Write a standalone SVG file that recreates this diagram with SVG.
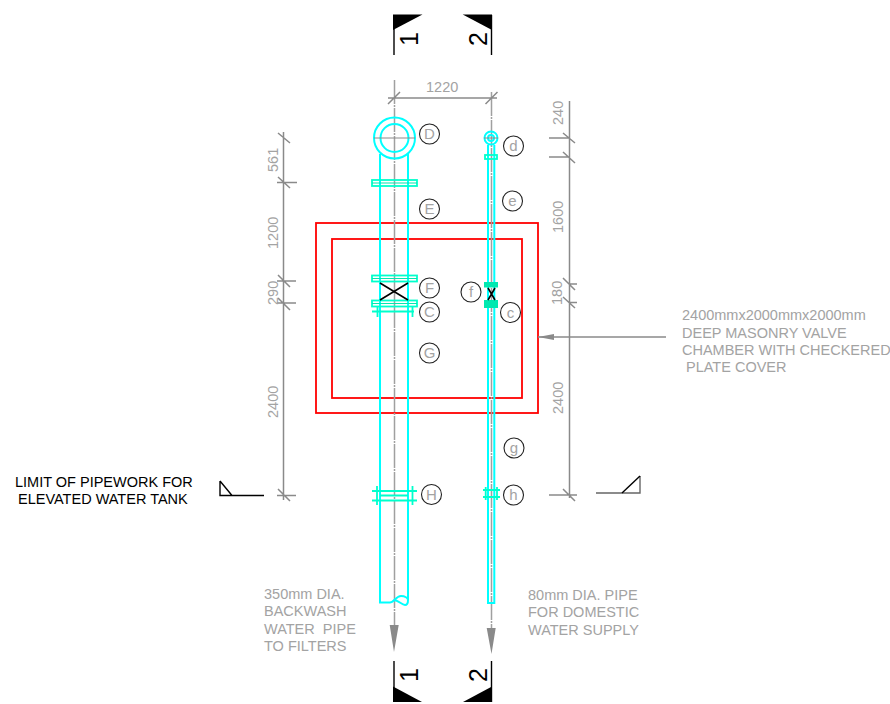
<svg xmlns="http://www.w3.org/2000/svg" width="890" height="704" viewBox="0 0 890 704">
<style>
text{font-family:"Liberation Sans",Arial,sans-serif;font-size:14.500px;fill:#a3a3a3}
.k{fill:#000}
.dg{fill:#000;font-size:25px;text-anchor:middle}
.c{fill:none;stroke:#00ffff;stroke-width:2}
.t{fill:none;stroke:#00e8b0;stroke-width:1.2}
.tc{fill:none;stroke:#00ffcc;stroke-width:1.800}
.d{fill:none;stroke:#8a8a8a;stroke-width:1.500}
.cl{fill:none;stroke:#a0a0a0;stroke-width:1.500;stroke-dasharray:24 1 2 1}
.x{fill:none;stroke:#000;stroke-width:1.600}
.r{fill:none;stroke:#ff0000;stroke-width:1.800}
.b{fill:none;stroke:#000;stroke-width:1.400}
.g{fill:none;stroke:#666;stroke-width:1.400}
.n{fill:#fff;stroke:#222;stroke-width:1.100}
.l{text-anchor:middle;font-size:15px}
</style>
<g id="chamber"><rect class="r" x="316" y="223" width="222" height="190"/><rect class="r" x="332" y="239" width="190" height="159"/></g>
<g id="connectors">
<path class="cl" d="M394.500 80V625M491.500 92V628"/>
<path class="d" d="M388 98H497M388 104L400 92M485.500 104L497.500 92"/>
<path class="d" d="M283.500 132V500M278 133L290 143M278 177L290 188M277 182.500H297M278 275L290 287M277 281H296M278 298L290 310M277 303H296M278 489L290 501M277 495.500H296"/>
<path class="d" d="M569.500 101V498M563 133L575 143M563 152L575 163M549 138H569M549 157H569M563 278L575 290M563 297L575 308M569 284H577M569 302.500H577M563 489L575 501M549 495H577"/>
<path class="d" d="M538 337H666"/><path d="M538 337L554 334V340Z" fill="#8a8a8a"/>
<path d="M389.700 625H398.700L394 652ZM486.700 628H495.700L491.500 654Z" fill="#8a8a8a"/>
</g>
<g id="pipe-large">
<circle class="c" cx="394.500" cy="138" r="20.500"/><circle class="c" cx="394.500" cy="138" r="14"/>
<path class="d" style="stroke-width:1" d="M374 138H415"/>
<path class="c" d="M380 154V602.500H390C394 602.500 396 596 401 596C405 596 408 598 408 600V154"/>
<path class="c" d="M394 600C398 600 402 605 405 605C407 605 408 603 408 600"/>
<rect class="tc" x="372" y="180" width="45" height="6"/><path class="t" d="M372 183H417"/>
<rect class="tc" x="372" y="275.500" width="45" height="6"/><path class="t" d="M372 278.500H417"/>
<rect class="tc" x="372" y="300.500" width="45" height="6"/><path class="t" d="M372 303.500H417"/>
<path class="x" d="M380 283L408 300M408 283L380 300"/>
<path class="tc" d="M372 311.500H414M377.500 307V317M412.500 307V317"/>
<path class="tc" d="M372 491H417M372 500.500H417M377 486V505M412.500 486V505M380 495.500H408"/>
</g>
<g id="pipe-small">
<circle class="c" cx="491" cy="138" r="6.500"/><circle class="c" cx="491" cy="138" r="3"/>
<path class="d" style="stroke-width:1" d="M484 138H498"/>
<path class="c" d="M488 145V603H494.300V145"/>
<rect class="tc" x="485" y="155" width="12" height="4"/>
<rect x="484" y="282" width="14" height="5.500" fill="#00e8b0"/>
<rect x="484" y="300" width="14" height="8" fill="#00e8b0"/>
<path class="x" d="M488 288L495 300M495 288L488 300"/>
<path class="tc" d="M483 490H500M483 497H500M485.700 487V500M497 487V500"/>
</g>
<g id="section-1-top"><path class="k" d="M393 14.500H422.500L393 30Z"/><path class="b" d="M394 15V55"/><text class="dg" transform="translate(418,39) rotate(-90)">1</text></g>
<g id="section-2-top"><path class="k" d="M462.700 14.500H492V30Z"/><path class="b" d="M491.500 15V55"/><text class="dg" transform="translate(487,39) rotate(-90)">2</text></g>
<g id="section-1-bottom"><path class="k" d="M393 702H422L393 686.500Z"/><path class="b" d="M394 661V702"/><text class="dg" transform="translate(418,675) rotate(-90)">1</text></g>
<g id="section-2-bottom"><path class="k" d="M463 702H492V686.500Z"/><path class="b" d="M491.500 661V702"/><text class="dg" transform="translate(487,675) rotate(-90)">2</text></g>
<g id="limit-left"><path class="b" d="M220 481L232 495.500H264M220 481V495.500H232"/></g>
<g id="limit-right"><path class="g" d="M596 493H640V476"/><path class="b" d="M640 476L622 493"/></g>
<g id="bubble-D"><circle class="n" cx="429.500" cy="134" r="10"/><text class="l" x="429.500" y="139">D</text></g>
<g id="bubble-d"><circle class="n" cx="513.500" cy="146" r="10"/><text class="l" x="513.500" y="151">d</text></g>
<g id="bubble-E"><circle class="n" cx="429.500" cy="209" r="10"/><text class="l" x="429.500" y="214">E</text></g>
<g id="bubble-e"><circle class="n" cx="512.500" cy="201" r="10"/><text class="l" x="512.500" y="206">e</text></g>
<g id="bubble-F"><circle class="n" cx="429.500" cy="288" r="10"/><text class="l" x="429.500" y="293">F</text></g>
<g id="bubble-f"><circle class="n" cx="471" cy="292" r="10"/><text class="l" x="471" y="297">f</text></g>
<g id="bubble-C"><circle class="n" cx="429.500" cy="312" r="10"/><text class="l" x="429.500" y="317">C</text></g>
<g id="bubble-c"><circle class="n" cx="510.500" cy="312.500" r="10"/><text class="l" x="510.500" y="317.500">c</text></g>
<g id="bubble-G"><circle class="n" cx="429.500" cy="353" r="10"/><text class="l" x="429.500" y="358">G</text></g>
<g id="bubble-g"><circle class="n" cx="514" cy="448" r="10"/><text class="l" x="514" y="453">g</text></g>
<g id="bubble-H"><circle class="n" cx="431.500" cy="494.500" r="10"/><text class="l" x="431.500" y="499.500">H</text></g>
<g id="bubble-h"><circle class="n" cx="513.500" cy="495" r="10"/><text class="l" x="513.500" y="500">h</text></g>
<g id="labels">
<text x="426" y="92">1220</text>
<text transform="translate(278,172) rotate(-90)">561</text>
<text transform="translate(278,249) rotate(-90)">1200</text>
<text transform="translate(278,305) rotate(-90)">290</text>
<text transform="translate(278,418) rotate(-90)">2400</text>
<text transform="translate(563,125) rotate(-90)">240</text>
<text transform="translate(563,233) rotate(-90)">1600</text>
<text transform="translate(562,305) rotate(-90)">180</text>
<text transform="translate(563,414) rotate(-90)">2400</text>
<text x="682" y="320">2400mmx2000mmx2000mm</text>
<text x="682" y="338">DEEP MASONRY VALVE</text>
<text x="682" y="355">CHAMBER WITH CHECKERED</text>
<text x="682" y="372" xml:space="preserve"> PLATE COVER</text>
<text class="k" x="15" y="487">LIMIT OF PIPEWORK FOR</text>
<text class="k" x="18" y="504">ELEVATED WATER TANK</text>
<text x="264" y="599">350mm DIA.</text>
<text x="264" y="616">BACKWASH</text>
<text x="264" y="634" xml:space="preserve">WATER  PIPE</text>
<text x="264" y="651">TO FILTERS</text>
<text x="528" y="600">80mm DIA. PIPE</text>
<text x="528" y="617">FOR DOMESTIC</text>
<text x="528" y="635">WATER SUPPLY</text>
</g>
</svg>
